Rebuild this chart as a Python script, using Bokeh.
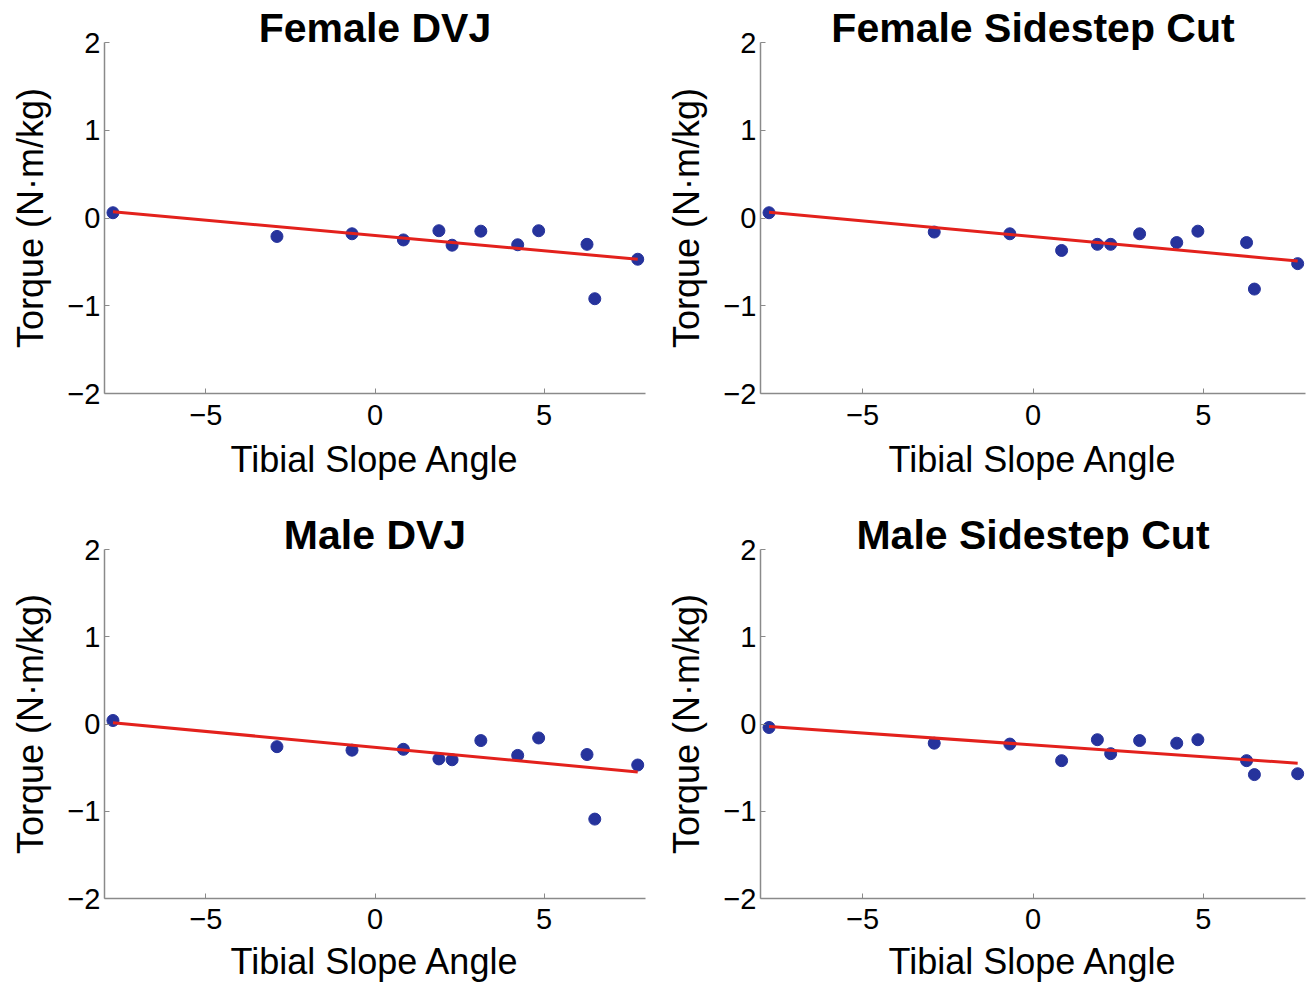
from bokeh.plotting import figure
from bokeh.layouts import gridplot
from bokeh.models import Range1d, FixedTicker
from bokeh.embed import file_html
from bokeh.resources import INLINE

# ---- data ----
tibial_slope = [-7.75, -2.9, -0.68, 0.84, 1.89, 2.28, 3.13, 4.22, 4.84, 6.27, 6.5, 7.77]

female_dvj = [0.06, -0.21, -0.18, -0.25, -0.145, -0.31, -0.15, -0.305, -0.145, -0.30, -0.92, -0.47]
female_cut = [0.06, -0.16, -0.18, -0.37, -0.30, -0.30, -0.18, -0.28, -0.15, -0.28, -0.81, -0.52]
male_dvj = [0.04, -0.26, -0.30, -0.29, -0.40, -0.41, -0.19, -0.36, -0.16, -0.35, -1.09, -0.47]
male_cut = [-0.04, -0.22, -0.23, -0.42, -0.18, -0.34, -0.19, -0.22, -0.18, -0.42, -0.58, -0.57]

# fitted line values at the first and last tibial slope angle
fit_female_dvj = [0.07, -0.47]
fit_female_cut = [0.065, -0.49]
fit_male_dvj = [0.015, -0.55]
fit_male_cut = [-0.03, -0.45]

titles = ["Female DVJ", "Female Sidestep Cut", "Male DVJ", "Male Sidestep Cut"]
x_ticks = [-5, 0, 5]
x_tick_labels = ["\u22125", "0", "5"]
y_ticks = [-2, -1, 0, 1, 2]
y_tick_labels = ["\u22122", "\u22121", "0", "1", "2"]
x_label = "Tibial Slope Angle"
y_label = "Torque (N\u00b7m/kg)"

FONT = "Liberation Sans"
DOT = "#26339c"
RED = "#e3211c"
AXIS = "#8a8a8a"

FRAME_H = 351


def make_panel(title, yvals, fit, width, height, left_border, frame_w, top_border,
               tick_standoff, label_standoff):
    p = figure(width=width, height=height, output_backend="svg", toolbar_location=None,
               x_range=Range1d(-8, 8), y_range=Range1d(-2, 2),
               min_border_left=left_border, min_border_right=width - left_border - frame_w,
               min_border_top=top_border, min_border_bottom=height - top_border - FRAME_H)
    p.outline_line_color = None
    p.xgrid.visible = False
    p.ygrid.visible = False
    p.background_fill_color = "white"
    p.border_fill_color = "white"

    p.scatter(tibial_slope, yvals, size=12, fill_color=DOT, line_color=DOT)
    p.line([tibial_slope[0], tibial_slope[-1]], fit, line_color=RED, line_width=3)

    for ax, ticks, labels in ((p.xaxis[0], x_ticks, x_tick_labels),
                              (p.yaxis[0], y_ticks, y_tick_labels)):
        ax.ticker = FixedTicker(ticks=ticks)
        ax.major_label_overrides = {t: l for t, l in zip(ticks, labels)}
        ax.axis_line_color = AXIS
        ax.axis_line_width = 1.5
        ax.major_tick_line_color = AXIS
        ax.major_tick_in = 5
        ax.major_tick_out = 0
        ax.minor_tick_line_color = None
        ax.major_label_text_font = FONT
        ax.major_label_text_font_size = "29px"
        ax.major_label_text_color = "black"
        ax.axis_label_text_font = FONT
        ax.axis_label_text_font_size = "36px"
        ax.axis_label_text_font_style = "normal"
        ax.axis_label_text_color = "black"

    p.xaxis.axis_label = x_label
    p.yaxis.axis_label = y_label
    p.xaxis.major_label_standoff = tick_standoff
    p.xaxis.axis_label_standoff = label_standoff
    p.yaxis.major_label_standoff = 4
    p.yaxis.axis_label_standoff = 13

    p.title.text = title
    p.title.align = "center"
    p.title.vertical_align = "bottom"
    p.title.text_font = FONT
    p.title.text_font_size = "41px"
    p.title.text_font_style = "bold"
    p.title.text_color = "black"
    p.title.standoff = -16
    return p


p1 = make_panel(titles[0], female_dvj, fit_female_dvj, 657, 486, 104, 541, 42, 11, 11)
p2 = make_panel(titles[1], female_cut, fit_female_cut, 657, 486, 103, 545, 42, 11, 11)
p3 = make_panel(titles[2], male_dvj, fit_male_dvj, 657, 498, 104, 541, 63, 10, 9)
p4 = make_panel(titles[3], male_cut, fit_male_cut, 657, 498, 103, 545, 63, 10, 9)

grid = gridplot([[p1, p2], [p3, p4]], toolbar_location=None)

open("out.html", "w").write(file_html(grid, INLINE))
